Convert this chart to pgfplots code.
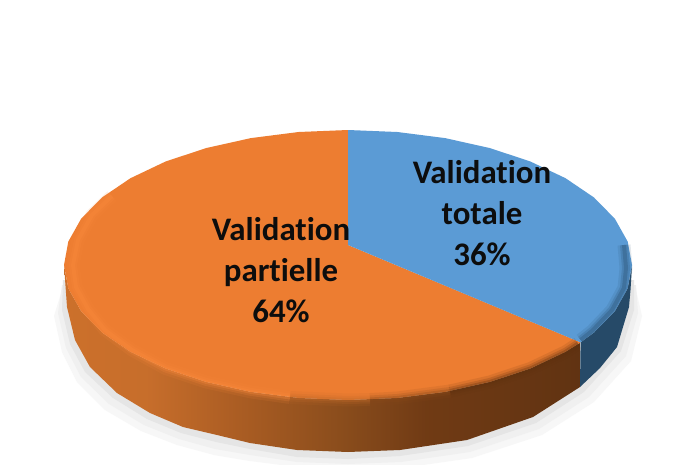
\documentclass[border=0pt]{standalone}
\usepackage{pgfplots}
\pgfplotsset{compat=1.18}
\usepackage{fontspec}
\setmainfont[Ligatures={TeX,NoCommon}]{Carlito}
\definecolor{blueTop}{HTML}{5B9BD5}
\definecolor{orangeTop}{HTML}{ED7D31}
\definecolor{blueSide}{HTML}{264A68}
\definecolor{bright}{HTML}{FB8A3C}
\definecolor{darkO}{HTML}{5E310F}
\definecolor{midA}{HTML}{8A4A1A}
\definecolor{midB}{HTML}{C06A2A}
\pgfdeclarehorizontalshading{sideOrange}{100bp}{
  rgb(0bp)=(0.80,0.44,0.17);
  rgb(25bp)=(0.80,0.44,0.17);
  rgb(33bp)=(0.78,0.43,0.17);
  rgb(41bp)=(0.68,0.37,0.14);
  rgb(52bp)=(0.54,0.30,0.11);
  rgb(60bp)=(0.44,0.23,0.08);
  rgb(75bp)=(0.38,0.20,0.07);
  rgb(100bp)=(0.38,0.20,0.07)
}
\newcommand{\softedge}[2]{%
\addplot[draw=blueSide, line width=#1bp, opacity=#2, forget plot] coordinates {
(624,245)(626,268)(624,288)(612,310)(592,331)(580.6,340)};
\addplot[draw=darkO, line width=#1bp, opacity=#2, forget plot] coordinates {
(578,343.5)(565.5,351.8)(530.6,368.4)(490,381.9)(450,391)};
\addplot[draw=midA, line width=#1bp, opacity=#2, forget plot] coordinates {
(450,391)(397.3,398)(370,399.5)};
\addplot[draw=midB, line width=#1bp, opacity=#2, forget plot] coordinates {
(370,399.5)(348,400)(290,397.5)};
\addplot[draw=bright, line width=#1bp, opacity=#2, forget plot] coordinates {
(290,397.5)(250.9,391.9)(206,381.9)(165.4,368.4)(132,350)(105,330)(88,309)(76,287)(73,265)(78,240)(92,215)(112,196)};
}
\begin{document}
\begin{tikzpicture}
\begin{axis}[
  scale only axis, width=681bp, height=465bp,
  xmin=0, xmax=681, ymin=0, ymax=465, y dir=reverse,
  hide axis, no markers, clip=true]
% page background (keeps the page as large as the axis)
\addplot[draw=none, fill=white, forget plot] coordinates {(0,0)(681,0)(681,465)(0,465)} --cycle;
% shadow
\addplot[draw=none, fill=black!3, forget plot] coordinates {
(62,290)(54,316)(62,352)(77,382)(105,410)(141,431)(177,445)(214,455)(250,461)(297,467)(348,470)(402,468)(472,458)(542,435)(594,402)(631,361)(642,316)(636,290)} --cycle;
\addplot[draw=none, fill=black!6, forget plot] coordinates {
(62,285)(58,313)(66,348)(81,377)(109,404)(144,425)(179,439)(215,449)(250,455)(297,462)(348,464)(401,462)(470,452)(539,429)(589,397)(626,356)(638,313)(636,285)} --cycle;
\addplot[draw=none, fill=black!10, forget plot] coordinates {
(63,280)(62,310)(70,344)(85,372)(113,398)(147,419)(181,433)(216,442)(250,449)(297,457)(348,459)(400,456)(468,446)(536,423)(584,392)(621,351)(634,310)(634,280)} --cycle;
% side, blue
\addplot[draw=none, fill=blueSide, forget plot] coordinates {
(632,265)(630.5,290)(629,307)(617,347)(600,368)(580,387)(580.6,342.4)(594,332.5)(614.9,311.2)(627.7,288.4)} --cycle;
% side, orange
\addplot[draw=none, shading=sideOrange, forget plot] coordinates {
(580.6,342.4)(580,387)(533,417)(467,440)(400,450)(348,452)(297,450)(250,443)(217,435)(183,427)(150,413)(117,393)(90,367)(75,340)(67,307)(64,265)(68.3,288.4)(81.1,311.2)(102,332.5)(130.5,351.8)(165.4,368.4)(206,381.9)(250.9,391.9)(298.7,398)(348,400)(397.3,398)(445.1,391.9)(490,381.9)(530.6,368.4)(565.5,351.8)} --cycle;
% top, orange slice (64 %)
\addplot[draw=none, fill=orangeTop, forget plot] coordinates {
(348,245)(580.6,342.4)(565.5,351.8)(530.6,368.4)(490,381.9)(445.1,391.9)(397.3,398)(348,400)(298.7,398)(250.9,391.9)(206,381.9)(165.4,368.4)(130.5,351.8)(102,332.5)(81.1,311.2)(68.3,288.4)(64,265)(68.3,241.6)(81.1,218.8)(102,197.5)(130.5,178.2)(165.4,161.6)(206,148.1)(250.9,138.1)(298.7,132)(348,130)} --cycle;
% top, blue slice (36 %)
\addplot[draw=none, fill=blueTop, forget plot] coordinates {
(348,245)(348,130)(397.3,132)(445.1,138.1)(490,148.1)(530.6,161.6)(565.5,178.2)(594,197.5)(614.9,218.8)(627.7,241.6)(632,265)(627.7,288.4)(614.9,311.2)(594,332.5)(580.6,342.4)} --cycle;
% soft edge between top and side
\softedge{13}{0.12}
\softedge{8}{0.2}
\softedge{4}{0.3}
\node[align=center, font=\bfseries\fontsize{33}{41}\selectfont, text=black!95] at (axis cs:281,270) {Validation\\partielle\\64\%};
\node[align=center, font=\bfseries\fontsize{33}{41}\selectfont, text=black!95] at (axis cs:482,213) {Validation\\totale\\36\%};
\end{axis}
\end{tikzpicture}
\end{document}
